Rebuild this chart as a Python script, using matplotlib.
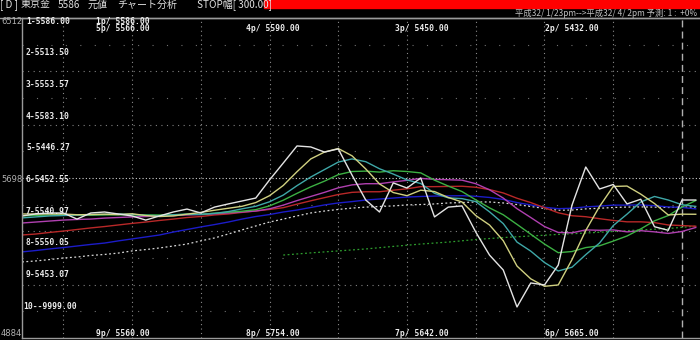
import numpy as np
import matplotlib.pyplot as plt
from matplotlib.lines import Line2D
from matplotlib.patches import Rectangle

# price scale of the chart window
y_top, y_mid, y_bot = 6512, 5698, 4884

# close prices, one per bar (last bar = forecast)
close = [5505, 5515, 5520, 5520, 5489, 5520, 5525, 5515, 5505, 5484,
         5505, 5525, 5540, 5520, 5550, 5566, 5581, 5596, 5688, 5774,
         5861, 5856, 5830, 5846, 5713, 5586, 5525, 5673, 5647, 5698,
         5500, 5550, 5556, 5423, 5306, 5230, 5042, 5164, 5154, 5255,
         5560, 5754, 5642, 5665, 5566, 5590, 5450, 5432, 5586, 5586]

ma4 = [5515, 5515, 5515, 5515, 5511, 5512, 5514, 5512, 5516, 5507,
       5502, 5505, 5514, 5523, 5534, 5544, 5554, 5573, 5608, 5660,
       5730, 5795, 5830, 5848, 5811, 5744, 5668, 5624, 5608, 5636,
       5629, 5599, 5576, 5507, 5459, 5379, 5250, 5185, 5147, 5154,
       5283, 5431, 5553, 5655, 5657, 5616, 5568, 5510, 5514, 5513.5]

ma7 = [5495, 5500, 5505, 5507, 5510, 5512, 5513, 5515, 5513, 5508,
       5506, 5511, 5514, 5513, 5518, 5527, 5541, 5554, 5577, 5611,
       5659, 5703, 5741, 5779, 5795, 5781, 5745, 5718, 5688, 5670,
       5620, 5597, 5593, 5578, 5526, 5466, 5372, 5326, 5268, 5225,
       5244, 5308, 5367, 5456, 5514, 5576, 5604, 5586, 5562, 5553.57]

ma10 = [5505, 5508, 5510, 5511, 5510, 5509, 5510, 5511, 5511, 5510,
        5510, 5511, 5513, 5513, 5519, 5524, 5529, 5537, 5556, 5585,
        5620, 5653, 5682, 5715, 5731, 5733, 5728, 5735, 5731, 5724,
        5687, 5657, 5629, 5587, 5546, 5511, 5462, 5412, 5362, 5318,
        5324, 5344, 5353, 5377, 5403, 5439, 5480, 5507, 5550, 5583.1]

ma15 = [5469, 5474, 5479, 5484, 5487, 5489, 5494, 5497, 5500, 5502,
        5505, 5507, 5510, 5512, 5516, 5520, 5525, 5530, 5541, 5560,
        5583, 5604, 5625, 5648, 5663, 5669, 5669, 5678, 5686, 5696,
        5691, 5689, 5687, 5669, 5638, 5596, 5542, 5497, 5451, 5421,
        5419, 5434, 5432, 5434, 5424, 5430, 5424, 5416, 5426, 5446.27]

ma20 = [5408, 5413, 5421, 5428, 5436, 5444, 5451, 5459, 5467, 5474,
        5482, 5489, 5497, 5502, 5510, 5515, 5523, 5530, 5538, 5547,
        5565, 5582, 5598, 5614, 5625, 5628, 5628, 5636, 5643, 5654,
        5654, 5655, 5656, 5651, 5639, 5622, 5595, 5573, 5547, 5521,
        5506, 5501, 5491, 5482, 5475, 5475, 5471, 5459, 5456, 5452.55]

ma30 = [5322, 5329, 5337, 5344, 5352, 5360, 5367, 5378, 5388, 5398,
        5408, 5423, 5436, 5449, 5461, 5474, 5489, 5502, 5512, 5525,
        5535, 5548, 5561, 5571, 5578, 5586, 5591, 5596, 5601, 5604,
        5606, 5607, 5608, 5605, 5599, 5589, 5573, 5561, 5549, 5542,
        5544, 5551, 5555, 5560, 5560, 5561, 5557, 5551, 5548, 5540.97]

ma40 = [5271, 5276, 5283, 5291, 5296, 5304, 5309, 5316, 5327, 5334,
        5342, 5352, 5362, 5378, 5393, 5413, 5434, 5454, 5474, 5489,
        5505, 5520, 5530, 5538, 5545, 5550, 5553, 5556, 5561, 5563,
        5566, 5571, 5573, 5576, 5576, 5571, 5563, 5553, 5543, 5534,
        5535, 5541, 5544, 5548, 5550, 5551, 5550, 5548, 5550, 5550.05]

ma100_bar = [19, 21, 23, 25, 27, 29, 31, 33, 35, 37, 39, 41, 43, 45, 47, 49]
ma100 = [5306, 5317, 5327, 5337, 5350, 5362, 5372, 5385, 5395, 5403,
         5411, 5418, 5426, 5434, 5441, 5453.07]

ma_labels = ['1-5586.00', '2-5513.50', '3-5553.57', '4-5583.10', '5-5446.27',
             '6-5452.55', '7-5540.97', '8-5550.05', '9-5453.07', '10--9999.00']
top_labels = ['1p/ 5586.00', '4p/ 5590.00', '3p/ 5450.00', '2p/ 5432.00']
bottom_labels = ['9p/ 5560.00', '8p/ 5754.00', '7p/ 5642.00', '6p/ 5665.00']

W, H = 700, 340
fig = plt.figure(figsize=(7, 3.4), dpi=100, facecolor='black')

def fx(x):
    return x / W

def fy(y):
    return 1 - y / H

bar_w = 13.75
ax = fig.add_axes([fx(22), fy(338), 678 / W, 320 / H])
ax.set_facecolor('black')
ax.set_xlim(0, 678 / bar_w)
ax.set_ylim(y_bot, y_top)
ax.set_xticks([])
ax.set_yticks([])
for s in ['left', 'top', 'bottom']:
    ax.spines[s].set_color('#9a9a9a')
    ax.spines[s].set_linewidth(1)
ax.spines['right'].set_visible(False)

# grid
step = (y_top - y_bot) / 12
for k in range(1, 12):
    yv = y_bot + k * step
    if k == 6:
        ax.axhline(yv, color='#d0d0d0', lw=0.8, ls=(0, (1, 2)))
    elif k % 2 == 0:
        ax.axhline(yv, color='#808080', lw=0.8, ls=(0, (1, 4)))
    else:
        ax.axhline(yv, color='#707070', lw=0.8, ls=(0, (1, 12)))
for b in range(3, 48, 5):
    ax.axvline(b, color='#8a8a8a', lw=0.8, ls=(0, (1, 3)))
ax.axvline(48, color='#b0b0b0', lw=1, ls=(0, (5, 3)))

bars = np.arange(len(close))
dot = (0, (1.5, 2))
ax.plot(ma100_bar, ma100, color='#2e9e2e', lw=0.9, ls=dot)
ax.plot(bars, ma40, color='#d8d8d8', lw=0.9, ls=dot)
ax.plot(bars, ma30, color='#1c1cc8', lw=1)
ax.plot(bars, ma20, color='#b82828', lw=1)
ax.plot(bars, ma15, color='#b040b0', lw=1)
ax.plot(bars, ma10, color='#3cb043', lw=1)
ax.plot(bars, ma7, color='#3fa8a8', lw=1)
ax.plot(bars, ma4, color='#d0d080', lw=1)
ax.plot(bars, close, color='#e4e4e4', lw=1)

# header
fig.patches.append(Rectangle((fx(264), fy(8)), 1 - fx(264), 8 / H,
                             transform=fig.transFigure, color='#ff0000'))
fig.add_artist(Line2D([0, 1], [fy(17.5), fy(17.5)], color='#9a9a9a', lw=1))
cjk = ['Noto Sans CJK JP', 'DejaVu Sans']
head = [(0, '[ D ]'), (21, '東京金'), (58, '5586'), (88, '元値'),
        (117, 'チャート分析'), (197, 'STOP幅[ 300.00]')]
for x, t in head:
    fig.text(fx(x), fy(4.5), t, color='#e0e0e0', fontsize=7.2,
             family=cjk, va='center', ha='left')
fig.text(fx(697), fy(13), '平成32/ 1/23pm-->平成32/ 4/ 2pm 予測: 1 :  +0%',
         color='#c0c0c0', fontsize=6, family=cjk, va='center', ha='right')

# price scale labels
for yp, t in [(21, y_top), (180, y_mid), (334, y_bot)]:
    fig.text(fx(1), fy(yp), str(t), color='#b0b0b0', fontsize=6,
             va='center', ha='left')

lab = dict(color='#ececec', fontsize=5.8, va='center', ha='left',
           family='DejaVu Sans Mono', fontweight='bold')
for k, t in enumerate(ma_labels):
    fig.text(fx(26 if k < 9 else 23), fy(21 + 31.7 * k), t, **lab)

xs = [96, 246, 395, 545]
fig.text(fx(96), fy(21), top_labels[0], **lab)
fig.text(fx(96), fy(28.5), '5p/ 5566.00', **lab)
for x, t in zip(xs[1:], top_labels[1:]):
    fig.text(fx(x), fy(28.5), t, **lab)
for x, t in zip(xs, bottom_labels):
    fig.text(fx(x), fy(334), t, **lab)

fig.savefig('out.png', dpi=100, facecolor='black')
